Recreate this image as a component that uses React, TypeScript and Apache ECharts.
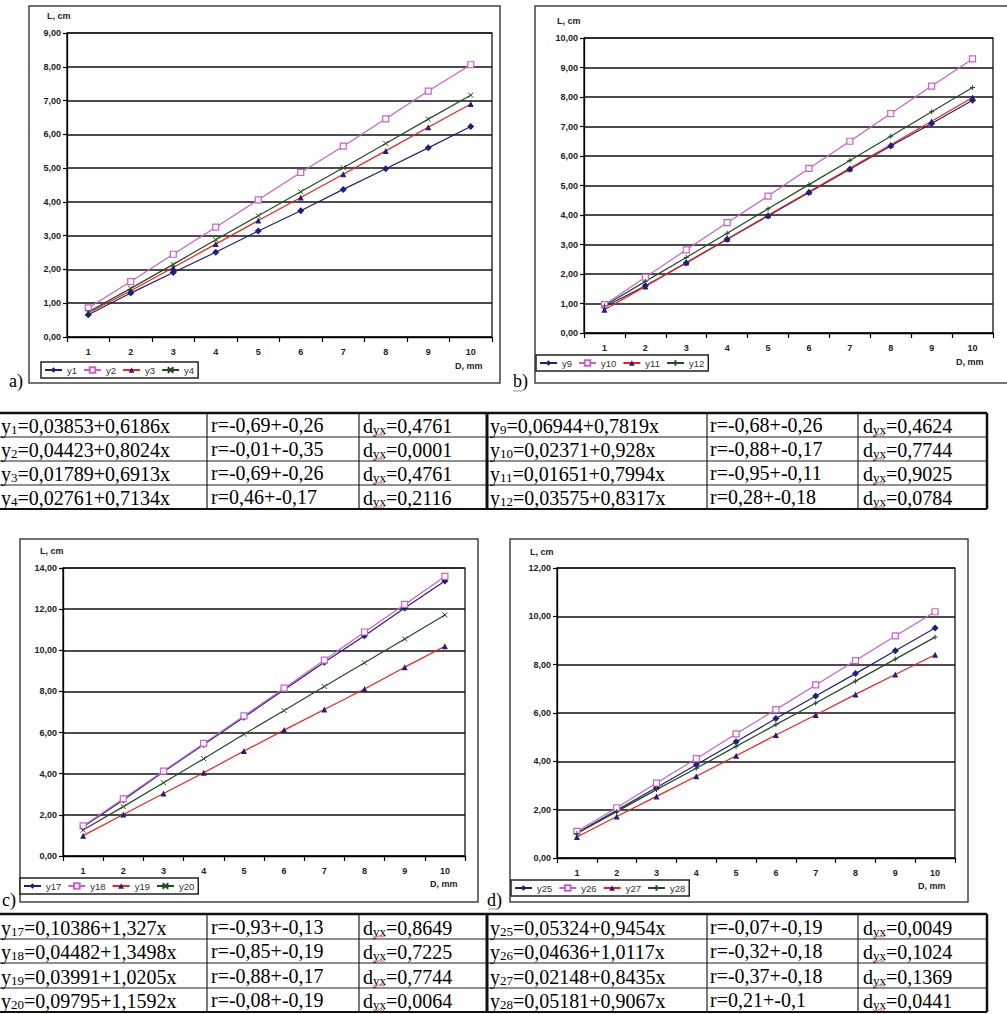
import React, { useEffect, useRef } from 'react';
import * as echarts from 'echarts';

const categories = ['1', '2', '3', '4', '5', '6', '7', '8', '9', '10'];

const y1 = [0.66, 1.30, 1.91, 2.51, 3.14, 3.74, 4.37, 4.98, 5.60, 6.23];
const y2 = [0.86, 1.64, 2.45, 3.25, 4.06, 4.87, 5.65, 6.46, 7.28, 8.06];
const y3 = [0.71, 1.37, 2.06, 2.75, 3.45, 4.13, 4.82, 5.51, 6.21, 6.90];
const y4 = [0.74, 1.44, 2.15, 2.88, 3.59, 4.30, 5.01, 5.73, 6.45, 7.16];

const y9 = [0.88, 1.60, 2.37, 3.18, 3.97, 4.76, 5.55, 6.34, 7.10, 7.89];
const y10 = [0.96, 1.89, 2.82, 3.74, 4.64, 5.58, 6.50, 7.44, 8.37, 9.29];
const y11 = [0.79, 1.58, 2.39, 3.19, 3.99, 4.79, 5.58, 6.38, 7.18, 7.98];
const y12 = [0.92, 1.75, 2.56, 3.38, 4.21, 5.03, 5.85, 6.67, 7.50, 8.32];

const y17 = [1.42, 2.72, 4.09, 5.42, 6.75, 8.08, 9.42, 10.71, 12.06, 13.37];
const y18 = [1.46, 2.78, 4.13, 5.47, 6.81, 8.16, 9.52, 10.89, 12.23, 13.59];
const y19 = [0.99, 2.02, 3.04, 4.05, 5.10, 6.12, 7.12, 8.12, 9.18, 10.20];
const y20 = [1.26, 2.40, 3.56, 4.73, 5.92, 7.07, 8.24, 9.39, 10.55, 11.72];

const y25 = [1.03, 1.97, 2.92, 3.86, 4.81, 5.77, 6.70, 7.63, 8.58, 9.52];
const y26 = [1.10, 2.08, 3.10, 4.11, 5.14, 6.14, 7.16, 8.17, 9.19, 10.19];
const y27 = [0.87, 1.72, 2.55, 3.38, 4.23, 5.09, 5.92, 6.77, 7.59, 8.41];
const y28 = [1.01, 1.92, 2.83, 3.71, 4.62, 5.52, 6.41, 7.32, 8.23, 9.14];

const yMaxA = 9, yMaxB = 10, yMaxC = 14, yMaxD = 12;
const yStepA = 1, yStepB = 1, yStepC = 2, yStepD = 2;

const yTitle = 'L, cm';
const xTitle = 'D, mm';

// tables
const t1Sub = ['1', '2', '3', '4'];
const t1Eq = ['=0,03853+0,6186x', '=0,04423+0,8024x', '=0,01789+0,6913x', '=0,02761+0,7134x'];
const t1R = ['r=-0,69+-0,26', 'r=-0,01+-0,35', 'r=-0,69+-0,26', 'r=0,46+-0,17'];
const t1D = ['=0,4761', '=0,0001', '=0,4761', '=0,2116'];
const t2Sub = ['9', '10', '11', '12'];
const t2Eq = ['=0,06944+0,7819x', '=0,02371+0,928x', '=0,01651+0,7994x', '=0,03575+0,8317x'];
const t2R = ['r=-0,68+-0,26', 'r=-0,88+-0,17', 'r=-0,95+-0,11', 'r=0,28+-0,18'];
const t2D = ['=0,4624', '=0,7744', '=0,9025', '=0,0784'];
const t3Sub = ['17', '18', '19', '20'];
const t3Eq = ['=0,10386+1,327x', '=0,04482+1,3498x', '=0,03991+1,0205x', '=0,09795+1,1592x'];
const t3R = ['r=-0,93+-0,13', 'r=-0,85+-0,19', 'r=-0,88+-0,17', 'r=-0,08+-0,19'];
const t3D = ['=0,8649', '=0,7225', '=0,7744', '=0,0064'];
const t4Sub = ['25', '26', '27', '28'];
const t4Eq = ['=0,05324+0,9454x', '=0,04636+1,0117x', '=0,02148+0,8435x', '=0,05181+0,9067x'];
const t4R = ['r=-0,07+-0,19', 'r=-0,32+-0,18', 'r=-0,37+-0,18', 'r=0,21+-0,1'];
const t4D = ['=0,0049', '=0,1024', '=0,1369', '=0,0441'];

const NAVY = '#1f1f80';
const MAG = '#cc5fcc';
const RED = '#ff1a1a';
const GREEN = '#1f4f1f';
const CROSS = 'path://M0,0L10,10M10,0L0,10';
const PLUS = 'path://M5,0L5,10M0,5L10,5';

const panels = [
  {
    names: ['y1', 'y2', 'y3', 'y4'], data: [y1, y2, y3, y4], yMax: yMaxA, step: yStepA, fourth: CROSS,
    box: [29, 6, 500, 383], grid: { left: 67, top: 33, width: 425, height: 304 },
    legend: [41, 362], yT: [47, 16], xT: [455, 366], tag: [9, 381, 'a)'],
  },
  {
    names: ['y9', 'y10', 'y11', 'y12'], data: [y9, y10, y11, y12], yMax: yMaxB, step: yStepB, fourth: PLUS,
    box: [535, 6, 1010, 383], grid: { left: 584, top: 38, width: 409, height: 295 },
    legend: [536, 355], yT: [557, 21], xT: [956, 362], tag: [513, 381, 'b)'],
  },
  {
    names: ['y17', 'y18', 'y19', 'y20'], data: [y17, y18, y19, y20], yMax: yMaxC, step: yStepC, fourth: CROSS,
    box: [20, 539, 478, 902], grid: { left: 63, top: 568, width: 402, height: 288 },
    legend: [20, 878], yT: [40, 551], xT: [430, 884], tag: [2, 900, 'c)'],
  },
  {
    names: ['y25', 'y26', 'y27', 'y28'], data: [y25, y26, y27, y28], yMax: yMaxD, step: yStepD, fourth: PLUS,
    box: [510, 539, 968, 902], grid: { left: 557, top: 568, width: 398, height: 290 },
    legend: [511, 880], yT: [530, 552], xT: [918, 886], tag: [487, 900, 'd)'],
  },
];

function seriesFor(p: any, pi: number) {
  return p.names.map((name: string, k: number) => {
    const base: any = {
      type: 'line', name, data: p.data[k], xAxisIndex: pi, yAxisIndex: pi,
      symbolSize: 6, lineStyle: { width: 1.2 }, emphasis: { disabled: true },
    };
    if (k === 0) {
      base.symbol = 'diamond';
      base.symbolSize = 7;
      base.itemStyle = { color: NAVY };
      base.lineStyle.color = NAVY;
    } else if (k === 1) {
      base.symbol = 'rect';
      base.itemStyle = { color: '#fff', borderColor: MAG, borderWidth: 1.2 };
      base.lineStyle.color = MAG;
    } else if (k === 2) {
      base.symbol = 'triangle';
      base.itemStyle = { color: NAVY };
      base.lineStyle.color = RED;
    } else {
      base.symbol = p.fourth;
      base.symbolSize = 5;
      base.itemStyle = { color: GREEN, borderColor: GREEN, borderWidth: 1 };
      base.lineStyle.color = GREEN;
    }
    return base;
  });
}

const fmt = (v: number) => v.toFixed(2).replace('.', ',');

const serif = 'Liberation Serif, Times New Roman, serif';
const sans = 'Liberation Sans, Arial, sans-serif';

const rich = {
  b: { fontSize: 20, fontFamily: serif, lineHeight: 22, verticalAlign: 'bottom', fill: '#000', color: '#000' },
  s: { fontSize: 13, fontFamily: serif, lineHeight: 10, verticalAlign: 'bottom', fill: '#000', color: '#000' },
};

function zigzag(x1: number, x2: number, y: number, color: string) {
  const pts: number[][] = [];
  let up = true;
  for (let x = x1; x <= x2; x += 1.5) {
    pts.push([x, up ? y - 0.8 : y + 0.8]);
    up = !up;
  }
  return { type: 'polyline', shape: { points: pts }, style: { stroke: color, lineWidth: 0.8, fill: null }, silent: true };
}

function tableElements(top: number, rows: number[], left: any, right: any) {
  const els: any[] = [];
  const L = -6, R = 987;
  const bottom = rows[rows.length - 1];
  const lineC = '#222';
  for (let i = 1; i < rows.length - 1; i++) {
    els.push({ type: 'line', shape: { x1: L, y1: rows[i], x2: R, y2: rows[i] }, style: { stroke: lineC, lineWidth: 1.2 }, silent: true });
  }
  els.push({ type: 'line', shape: { x1: L, y1: top, x2: R, y2: top }, style: { stroke: '#111', lineWidth: 2.5 }, silent: true });
  els.push({ type: 'line', shape: { x1: L, y1: bottom, x2: R, y2: bottom }, style: { stroke: '#111', lineWidth: 2 }, silent: true });
  [207, 359, 707, 858].forEach((x) => {
    els.push({ type: 'line', shape: { x1: x, y1: top, x2: x, y2: bottom }, style: { stroke: lineC, lineWidth: 1.2 }, silent: true });
  });
  els.push({ type: 'line', shape: { x1: 487, y1: top, x2: 487, y2: bottom }, style: { stroke: '#111', lineWidth: 3 }, silent: true });
  els.push({ type: 'line', shape: { x1: R, y1: top, x2: R, y2: bottom }, style: { stroke: '#111', lineWidth: 2.5 }, silent: true });

  for (let i = 0; i < 4; i++) {
    const cy = (rows[i] + rows[i + 1]) / 2;
    const addEq = (x: number, sub: string, eq: string) => {
      els.push({ type: 'text', x, y: cy, silent: true, style: { text: `{b|y}{s|${sub}}{b|${eq}}`, rich, verticalAlign: 'middle', align: 'left' } });
    };
    const addR = (x: number, r: string) => {
      els.push({ type: 'text', x, y: cy, silent: true, style: { text: r, font: `20px ${serif}`, fill: '#000', verticalAlign: 'middle', align: 'left' } });
    };
    const addD = (x: number, d: string) => {
      els.push({ type: 'text', x, y: cy, silent: true, style: { text: `{b|d}{s|yx}{b|${d}}`, rich, verticalAlign: 'middle', align: 'left' } });
      els.push(zigzag(x + 10, x + 23, cy + 10, '#e03030'));
    };
    addEq(left.x0, left.sub[i], left.eq[i]);
    addR(211, left.r[i]);
    addD(363, left.d[i]);
    addEq(490, right.sub[i], right.eq[i]);
    addR(710, right.r[i]);
    addD(863, right.d[i]);
  }
  return els;
}

function buildOption() {
  const grid: any[] = [], xAxis: any[] = [], yAxis: any[] = [], series: any[] = [], legend: any[] = [], graphics: any[] = [];
  panels.forEach((p, pi) => {
    grid.push({ ...p.grid, show: true, borderColor: '#000', borderWidth: 1.2, backgroundColor: 'transparent' });
    xAxis.push({
      type: 'category', gridIndex: pi, data: categories, boundaryGap: true,
      axisLine: { show: true, lineStyle: { color: '#000', width: 1.3 } },
      axisTick: { show: true, length: 5, lineStyle: { color: '#000', width: 1.2 } },
      axisLabel: { fontSize: 9, fontWeight: 'bold', color: '#222', fontFamily: sans, margin: 10 },
      splitLine: { show: false },
    });
    yAxis.push({
      type: 'value', gridIndex: pi, min: 0, max: p.yMax, interval: p.step,
      axisLine: { show: true, lineStyle: { color: '#000', width: 1.3 } },
      axisTick: { show: true, length: 4, lineStyle: { color: '#000', width: 1.2 } },
      axisLabel: { fontSize: 9, fontWeight: 'bold', color: '#222', fontFamily: sans, margin: 6, formatter: fmt },
      splitLine: { show: true, lineStyle: { color: '#111', width: 1.5 } },
    });
    series.push(...seriesFor(p, pi));
    legend.push({
      left: p.legend[0], top: p.legend[1], orient: 'horizontal', data: p.names,
      itemWidth: 17, itemHeight: 7, itemGap: 6, padding: [3, 4, 3, 3],
      borderColor: '#222', borderWidth: 1.5, backgroundColor: '#fff', selectedMode: false,
      textStyle: { fontSize: 9.5, color: '#333', fontFamily: sans },
    });
    const [bx1, by1, bx2, by2] = p.box;
    graphics.push({ type: 'rect', shape: { x: bx1, y: by1, width: bx2 - bx1, height: by2 - by1 }, style: { fill: null, stroke: '#444', lineWidth: 1.5 }, silent: true, z: -10 });
    graphics.push({ type: 'text', x: p.yT[0], y: p.yT[1], silent: true, style: { text: yTitle, font: `bold 9px ${sans}`, fill: '#222', verticalAlign: 'middle' } });
    graphics.push({ type: 'text', x: p.xT[0], y: p.xT[1], silent: true, style: { text: xTitle, font: `bold 9px ${sans}`, fill: '#222', verticalAlign: 'middle' } });
    graphics.push({ type: 'text', x: p.tag[0] as number, y: p.tag[1] as number, silent: true, style: { text: p.tag[2] as string, font: `18px ${serif}`, fill: '#000', verticalAlign: 'middle' } });
  });
  graphics.push(zigzag(513, 523, 391, '#3a9a3a'));
  graphics.push(zigzag(488, 498, 909, '#3a9a3a'));

  graphics.push(...tableElements(413, [413, 437, 461, 485, 509],
    { x0: 1, sub: t1Sub, eq: t1Eq, r: t1R, d: t1D },
    { sub: t2Sub, eq: t2Eq, r: t2R, d: t2D }));
  graphics.push(...tableElements(914, [914, 939, 963, 988, 1012],
    { x0: 1, sub: t3Sub, eq: t3Eq, r: t3R, d: t3D },
    { sub: t4Sub, eq: t4Eq, r: t4R, d: t4D }));

  return {
    animation: false,
    backgroundColor: '#fff',
    grid, xAxis, yAxis, series, legend,
    graphic: { elements: graphics },
  };
}

export default function App() {
  const ref = useRef<HTMLDivElement>(null);
  useEffect(() => {
    const chart = echarts.init(ref.current!, null, { renderer: 'svg' });
    chart.setOption(buildOption() as any);
    return () => chart.dispose();
  }, []);
  return (
    <div
      ref={ref}
      style={{ position: 'absolute', left: 0, top: 0, width: 1007, height: 1014, background: '#fff' }}
    />
  );
}
